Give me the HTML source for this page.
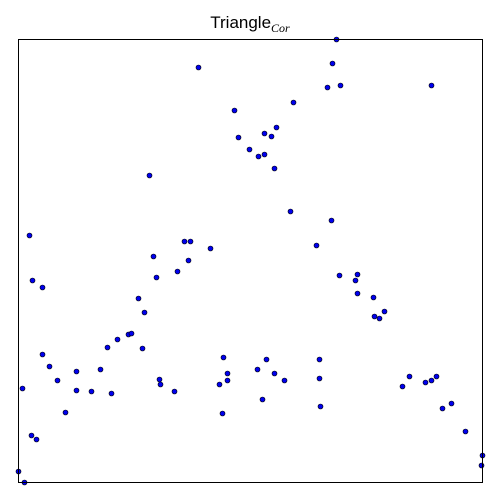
<!DOCTYPE html>
<html><head><meta charset="utf-8">
<style>
html,body{margin:0;padding:0;background:#fff;}
svg{display:block;font-family:"Liberation Sans",sans-serif;}
</style></head>
<body>
<svg id="chart" width="500" height="500">
<rect x="0" y="0" width="500" height="500" fill="#fff"/>
<text x="250" y="28" text-anchor="middle" font-size="17">Triangle<tspan font-style="italic" font-family="Liberation Serif" font-size="12" dy="4">Cor</tspan></text>
<g id="pts"></g>
<rect x="18.5" y="39.5" width="464" height="443" fill="none" stroke="#000" stroke-width="1"/>
</svg>
<script>
const xValues=[18,22,24,29,32,31,36,42,42,49,57,65,76,76,91,100,107,111,117,128,131,138,142,144,149,153,156,159,160,174,177,184,188,190,198,210,219,222,223,227,227,234,238,249,257,258,262,264,264,266,271,274,274,276,284,290,293,316,319,319,320,327,331,332,336,339,340,355,357,357,373,374,379,384,402,409,425,431,431,436,442,451,465,481,482];
const yValues=[11,94,0,247,202,47,43,195,128,116,102,70,111,92,91,113,135,89,143,148,149,184,134,170,307,226,205,103,98,91,211,241,222,241,415,234,98,69,125,109,102,372,345,333,113,326,83,349,328,123,346,109,314,355,102,271,380,237,123,104,76,395,262,419,443,207,397,202,208,189,185,166,164,171,96,106,100,397,102,106,74,79,51,17,27];
const xDomain=[18,482], yDomain=[0,443];
const X0=18.5,X1=482.5,Y0=482.5,Y1=39.5;
function xScale(v){return X0+(v-xDomain[0])/(xDomain[1]-xDomain[0])*(X1-X0);}
function yScale(v){return Y0-(v-yDomain[0])/(yDomain[1]-yDomain[0])*(Y0-Y1);}
const g=document.getElementById('pts');
const NS='http://www.w3.org/2000/svg';
for(let i=0;i<xValues.length;i++){
  const c=document.createElementNS(NS,'circle');
  c.setAttribute('cx',xScale(xValues[i]));
  c.setAttribute('cy',yScale(yValues[i]));
  c.setAttribute('r',2.5);
  c.setAttribute('fill','#0000ee');
  c.setAttribute('stroke','#000');
  c.setAttribute('stroke-width','0.6');
  
  
  g.appendChild(c);
}
</script>
</body></html>
